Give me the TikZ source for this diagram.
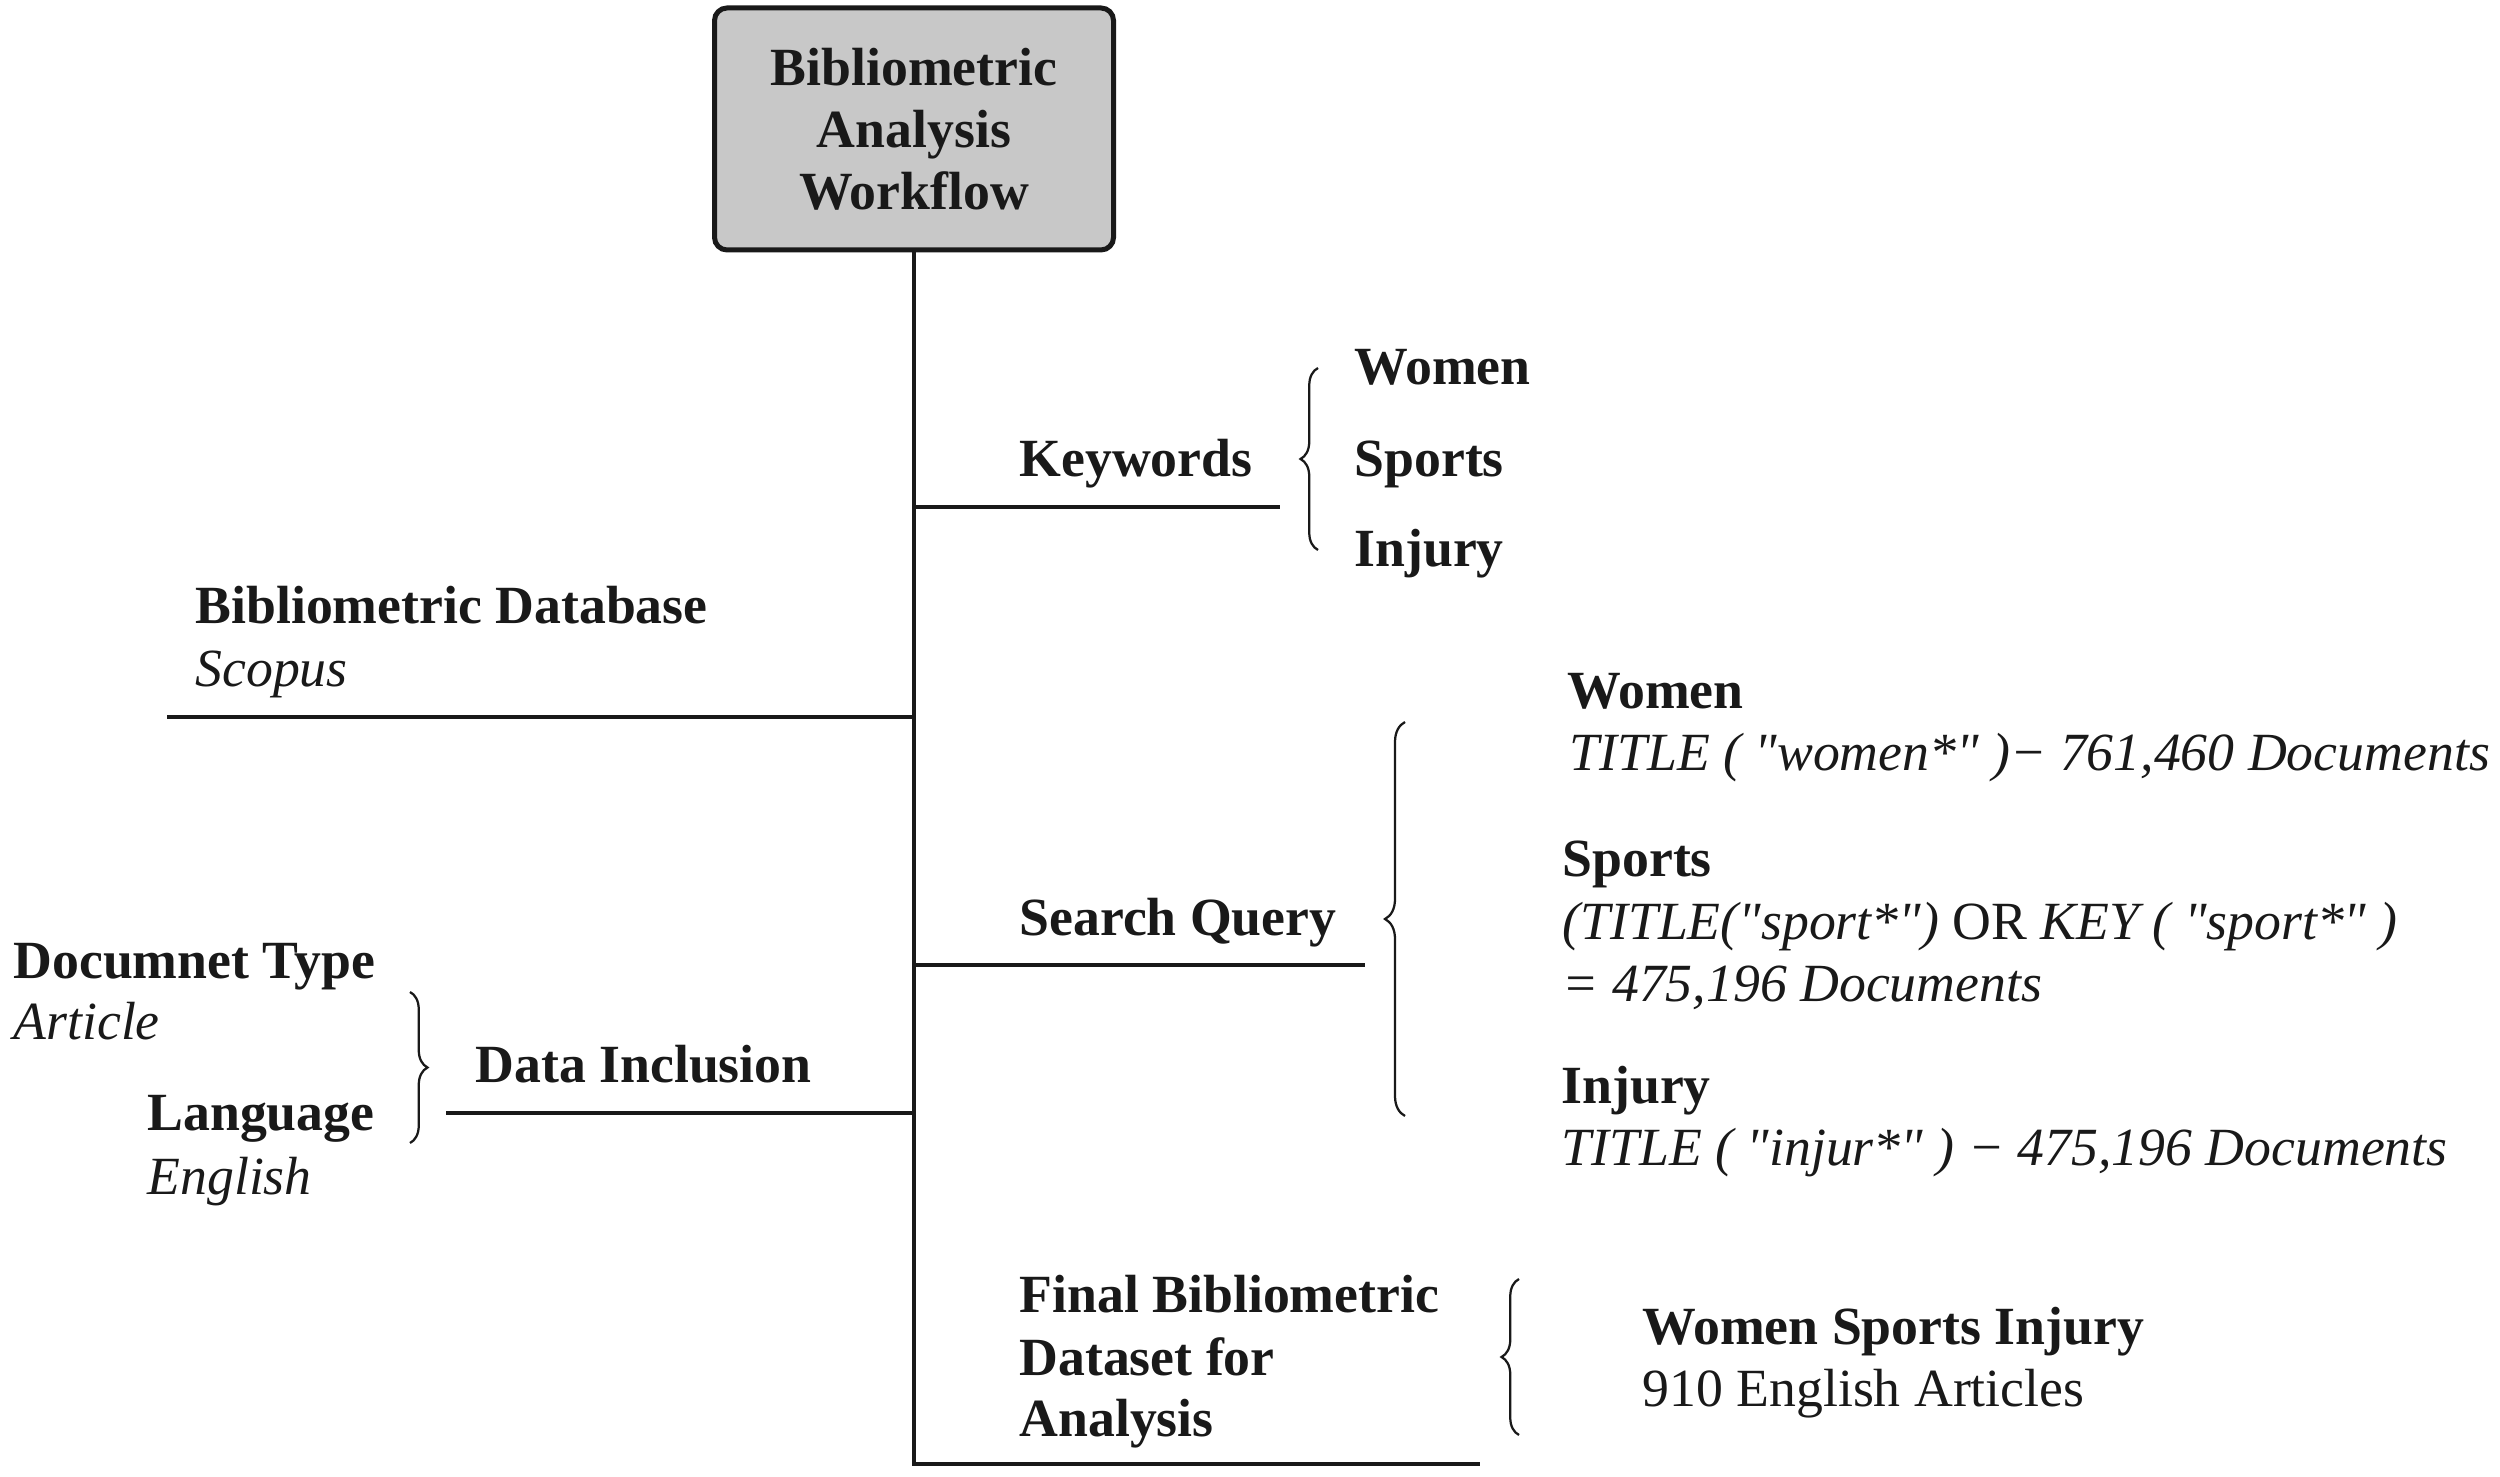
\documentclass[tikz,border=0pt]{standalone}
\usepackage{fontspec}
\setmainfont{Liberation Serif}[Ligatures=TeXOff]
\usetikzlibrary{decorations.pathreplacing}
\definecolor{boxgray}{RGB}{200,200,200}
\definecolor{ink}{RGB}{25,25,25}
\begin{document}
\begin{tikzpicture}[x=0.4pt,y=-0.4pt,
  txt/.style={inner sep=0pt, anchor=base west, font=\fontsize{21.5pt}{24.8pt}\selectfont, text=ink},
  hd/.style={txt, font=\fontsize{21.5pt}{24.8pt}\selectfont\bfseries},
  desc/.style={txt, font=\fontsize{21.5pt}{24.8pt}\selectfont\itshape},
  conn/.style={draw=ink, line width=1.5pt},
  brc/.style={draw=ink, line width=0.9pt, decorate, decoration={brace, amplitude=#1}},
]
\path[use as bounding box] (0,0) rectangle (2500,1477);

% title box
\node[draw=ink, line width=2pt, fill=boxgray, rounded corners=5pt,
  minimum width=159.6pt, minimum height=96.8pt, align=center, inner sep=0pt,
  font=\fontsize{21.5pt}{24.8pt}\selectfont\bfseries, text=ink] (title) at (914,129)
  {Bibliometric\\Analysis\\Workflow};

% coordinates
\coordinate (bot) at (914,1464);
\coordinate (finend) at (1480,1464);
\coordinate (kwA) at (914,507);  \coordinate (kwB) at (1280,507);
\coordinate (dbA) at (167,717);  \coordinate (dbB) at (914,717);
\coordinate (sqA) at (914,965);  \coordinate (sqB) at (1365,965);
\coordinate (diA) at (446,1113); \coordinate (diB) at (914,1113);

% connectors
\draw[conn] (title.south) -- (bot) -- (finend);
\draw[conn] (kwA) -- (kwB);
\draw[conn] (dbA) -- (dbB);
\draw[conn] (sqA) -- (sqB);
\draw[conn] (diA) -- (diB);

% braces
\coordinate (kb1) at (1318,550);  \coordinate (kb2) at (1318,368);
\coordinate (sb1) at (1405,1116); \coordinate (sb2) at (1405,722);
\coordinate (db1) at (410,992);   \coordinate (db2) at (410,1143);
\coordinate (fb1) at (1519,1435); \coordinate (fb2) at (1519,1279);
\draw[brc=7pt] (kb1) -- (kb2);
\draw[brc=8pt] (sb1) -- (sb2);
\draw[brc=7pt] (db1) -- (db2);
\draw[brc=7pt] (fb1) -- (fb2);

% keywords
\node[hd] (kw) at (1019,477) {Keywords};
\node[hd] (kw1) at (1354,385) {Women};
\node[hd] (kw2) at (1354,477) {Sports};
\node[hd] (kw3) at (1354,567) {Injury};

% database
\node[hd] (db) at (195,624) {Bibliometric Database};
\node[desc] (dbs) at (195,687) {Scopus};

% search query
\node[hd] (sq) at (1019,935) {Search Query};
\node[hd] (sq1) at (1567,709) {Women};
\node[desc] (sq1a) at (1569,771) {TITLE ( "women*" )− 761,460 Documents};
\node[hd] (sq2) at (1562,876) {Sports};
\node[desc] (sq2a) at (1562,939) {(TITLE("sport*") \textup{OR} KEY ( "sport*" )};
\node[desc] (sq2b) at (1562,1001) {= 475,196 Documents};
\node[hd] (sq3) at (1561,1103) {Injury};
\node[desc] (sq3a) at (1561,1165) {TITLE ( "injur*" ) − 475,196 Documents};

% data inclusion
\node[hd] (dt) at (13,978) {Documnet Type};
\node[desc] (dta) at (13,1039) {Article};
\node[hd] (lg) at (147,1130) {Language};
\node[desc] (lga) at (147,1194) {English};
\node[hd] (di) at (475,1082) {Data Inclusion};

% final dataset
\node[hd] (f1) at (1019,1312) {Final Bibliometric};
\node[hd] (f2) at (1019,1375) {Dataset for};
\node[hd] (f3) at (1019,1436) {Analysis};
\node[hd] (w1) at (1642,1344) {Women Sports Injury};
\node[txt] (w2) at (1642,1406) {910 English Articles};
\end{tikzpicture}
\end{document}
